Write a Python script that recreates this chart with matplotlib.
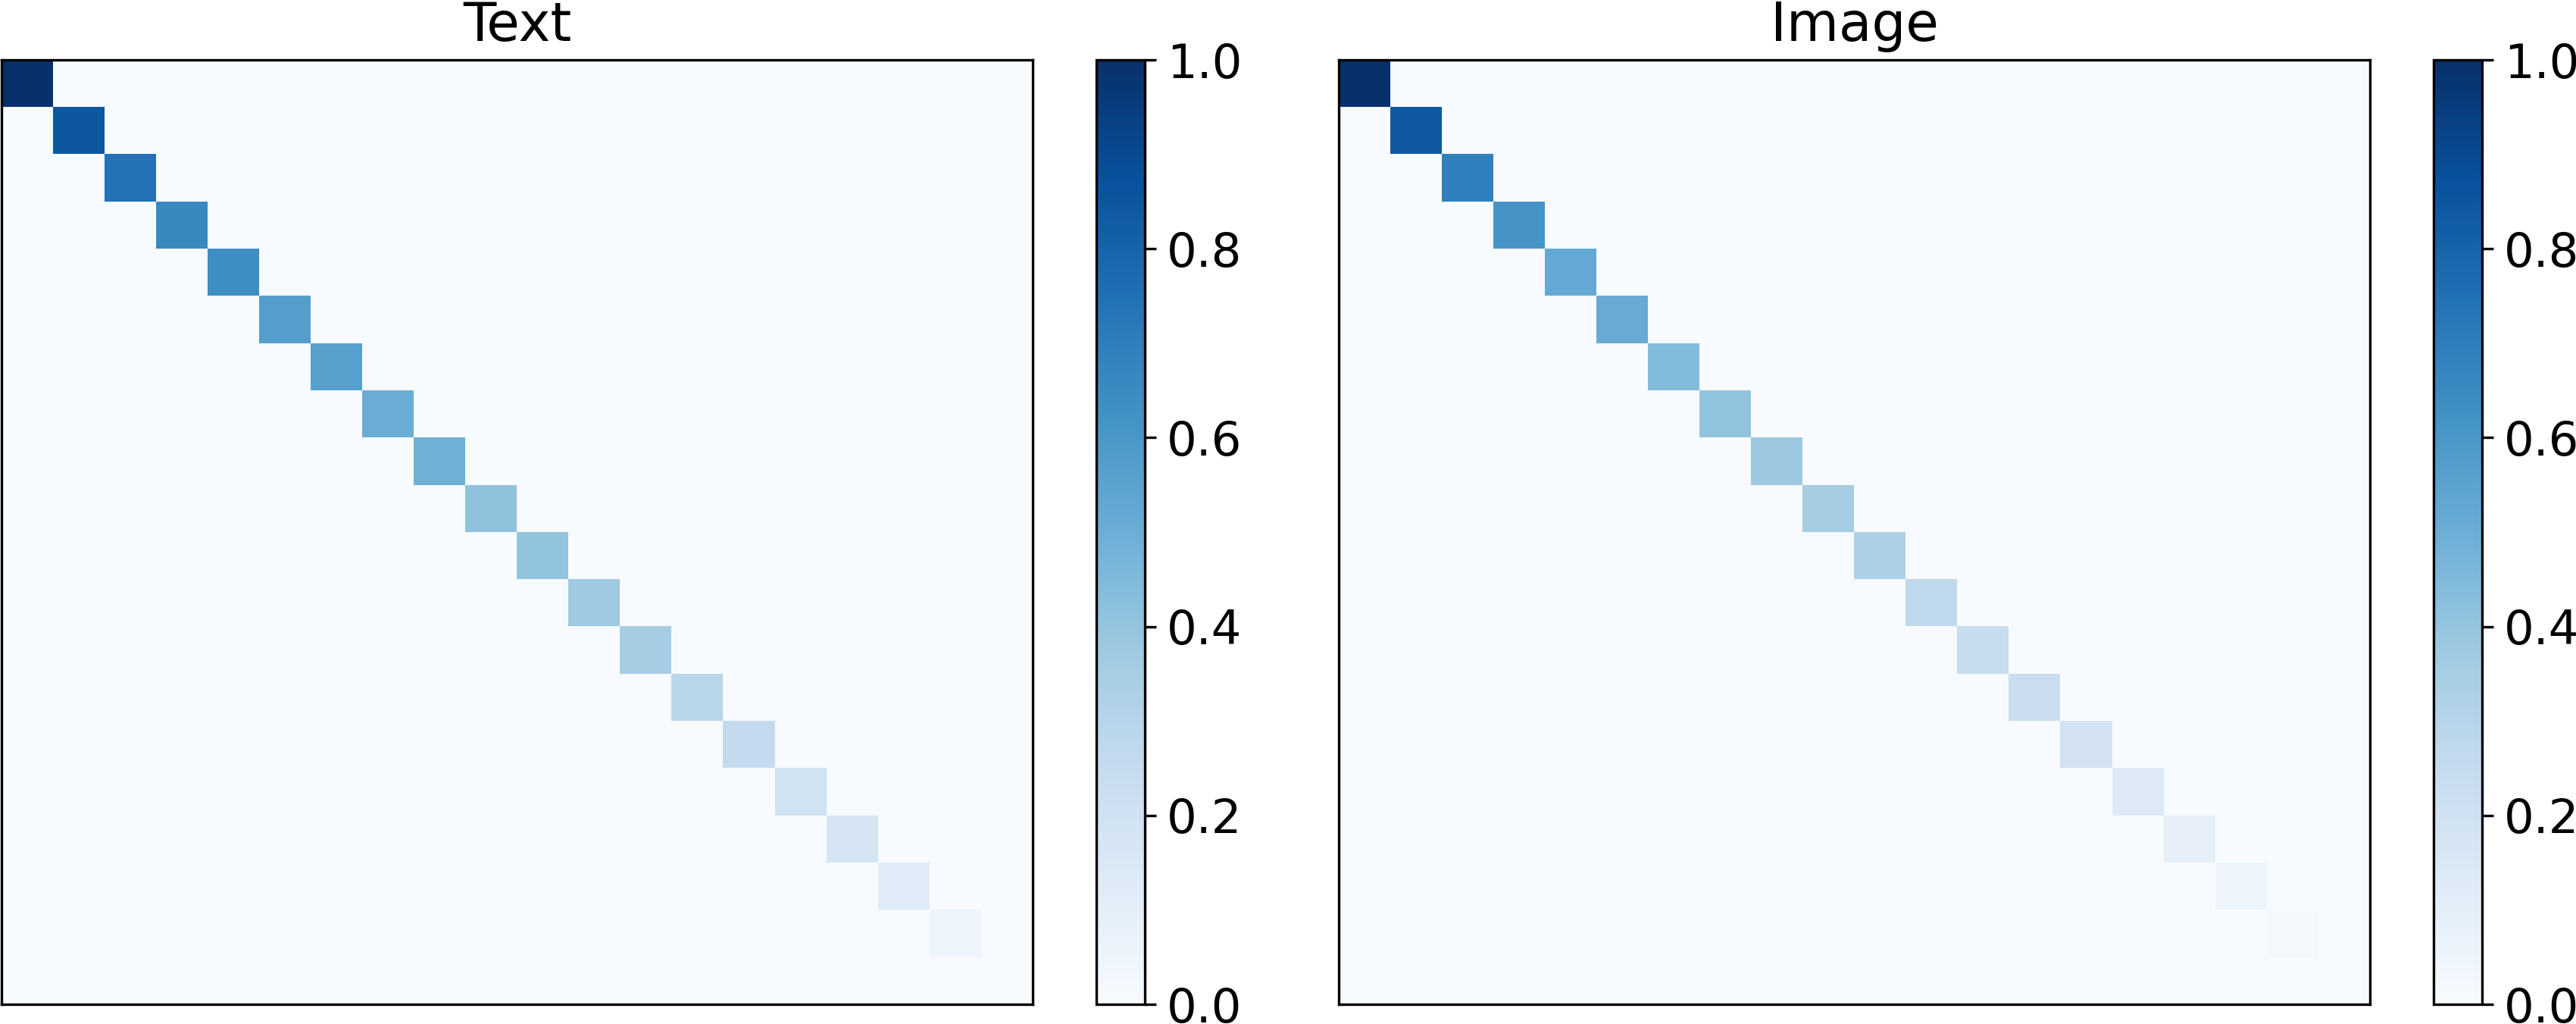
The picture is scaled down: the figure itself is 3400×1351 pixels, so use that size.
import numpy as np
import matplotlib
matplotlib.use("Agg")
import matplotlib.pyplot as plt

# diagonal weights (rows 1..20)
text_diag = [1.00, 0.85, 0.74, 0.66, 0.64, 0.57, 0.56, 0.50, 0.49, 0.41,
             0.40, 0.37, 0.35, 0.29, 0.25, 0.19, 0.17, 0.12, 0.05, 0.00]
image_diag = [1.00, 0.84, 0.69, 0.61, 0.52, 0.51, 0.44, 0.40, 0.38, 0.35,
              0.33, 0.27, 0.24, 0.22, 0.18, 0.13, 0.08, 0.05, 0.02, 0.00]
titles = ["Text", "Image"]
cbar_ticks = [0.0, 0.2, 0.4, 0.6, 0.8, 1.0]

fig = plt.figure(figsize=(3400 / 300, 1351 / 300), dpi=300)

# positions in figure fraction (heatmap, colorbar)
bottom = 26 / 1351
height = 1246 / 1351
panels = [
    (2 / 3400, 1447 / 3400),
    (1767 / 3400, 3212 / 3400),
]

for diag, title, (x0, cx0) in zip([text_diag, image_diag], titles, panels):
    ax = fig.add_axes([x0, bottom, 1361 / 3400, height])
    cax = fig.add_axes([cx0, bottom, 64 / 3400, height])
    mat = np.diag(diag)
    im = ax.imshow(mat, cmap="Blues", vmin=0, vmax=1, aspect="auto",
                   interpolation="nearest")
    ax.set_xticks([])
    ax.set_yticks([])
    ax.set_title(title, fontsize=17)
    cb = fig.colorbar(im, cax=cax)
    cb.set_ticks(cbar_ticks)
    cb.ax.tick_params(labelsize=15)

fig.savefig("out.png", dpi=300)
